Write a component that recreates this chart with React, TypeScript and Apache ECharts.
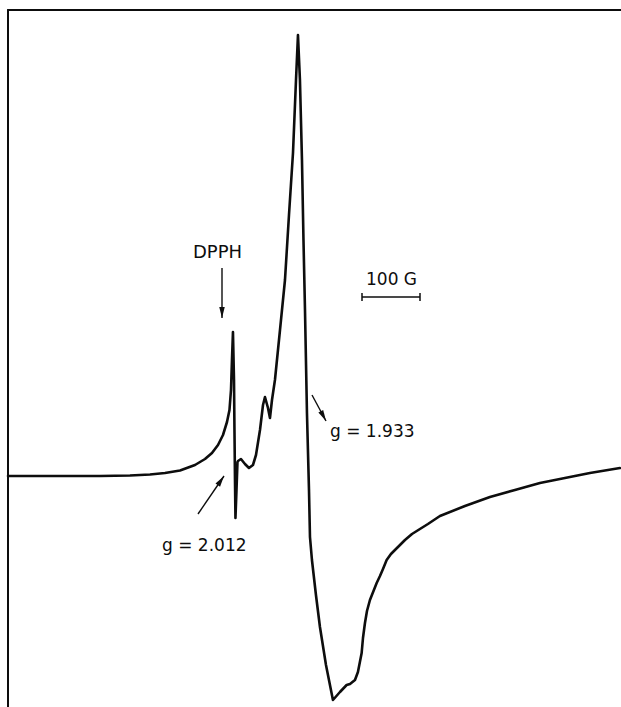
import React, { useEffect, useRef } from "react";
import * as echarts from "echarts";

// Magnetic field (G, relative to left edge of the record)
const fieldG = [
  0, 89.7, 158.6, 210.3, 244.8, 270.7, 296.6, 322.4, 339.7, 351.7,
  362.1, 370.7, 377.6, 381.9, 384.5, 386.2, 387.9, 389.7, 390.5, 391.4,
  392.2, 394.0, 395.7, 396.6, 401.7, 408.6, 415.5, 422.4, 427.6, 434.5,
  439.7, 443.1, 448.3, 451.7, 455.2, 460.3, 469.0, 477.6, 484.5, 491.4,
  496.6, 500.0, 503.4, 506.9, 509.5, 512.1, 515.5, 519.0, 520.7, 524.1,
  531.0, 537.9, 548.3, 560.3, 572.4, 583.9, 589.7, 598.3, 603.4, 609.8,
  612.1, 615.5, 619.0, 624.1, 635.7, 641.4, 646.6, 652.9, 660.3, 667.2,
  675.9, 684.5, 696.6, 710.3, 724.1, 744.8, 787.9, 831.0, 874.1, 917.2,
  960.3, 1003.4, 1055.2,
];

// EPR derivative signal (arbitrary units)
const signal = [
  0, 0, 0, 0.5, 1.5, 3, 5.5, 11, 17, 23,
  31, 41, 54, 66, 86, 116, 144, 96, 46, -4,
  -42, -14, 14, 15, 17, 12, 8, 11, 21, 46,
  71, 79, 68, 58, 76, 96, 146, 196, 261, 323,
  396, 441, 396, 316, 236, 166, 63, -14, -61, -84,
  -119, -151, -189, -224, -216, -209, -208, -204, -196, -177,
  -162, -147, -135, -124, -107, -100, -93, -84, -78, -74,
  -69, -64, -58, -53, -48, -40, -30, -21, -14, -7,
  -2, 3, 8,
];

const labelDPPH = "DPPH";
const labelScale = "100 G";
const labelG1 = "g = 1.933";
const labelG2 = "g = 2.012";

function arrowHead(x1: number, y1: number, tx: number, ty: number, len: number, w: number) {
  const dx = tx - x1;
  const dy = ty - y1;
  const d = Math.sqrt(dx * dx + dy * dy);
  const ux = dx / d;
  const uy = dy / d;
  const bx = tx - ux * len;
  const by = ty - uy * len;
  const nx = -uy;
  const ny = ux;
  return [
    [tx, ty],
    [bx + (nx * w) / 2, by + (ny * w) / 2],
    [bx - (nx * w) / 2, by - (ny * w) / 2],
  ];
}

const FONT = "'DejaVu Sans', 'Liberation Sans', sans-serif";
const INK = "#0d0d0d";

function textEl(text: string, x: number, y: number, size = 17) {
  return {
    type: "text",
    x,
    y,
    style: {
      text,
      fill: INK,
      fontSize: size,
      fontFamily: FONT,
      align: "left",
      verticalAlign: "middle",
      textAlign: "left",
      textVerticalAlign: "middle",
    },
  };
}

function arrow(x1: number, y1: number, tx: number, ty: number) {
  return [
    {
      type: "line",
      shape: { x1, y1, x2: tx, y2: ty },
      style: { stroke: INK, lineWidth: 1.4 },
    },
    {
      type: "polygon",
      shape: { points: arrowHead(x1, y1, tx, ty, 11, 5.5) },
      style: { fill: INK },
    },
  ];
}

export default function App() {
  const ref = useRef<HTMLDivElement>(null);

  useEffect(() => {
    if (!ref.current) return;
    const chart = echarts.init(ref.current, null, { renderer: "svg" });
    const data = fieldG.map((f, i) => [f, signal[i]]);

    chart.setOption({
      animation: false,
      backgroundColor: "#ffffff",
      grid: { left: 8, right: 0, top: 10, bottom: 0, containLabel: false },
      xAxis: {
        type: "value",
        min: 0,
        max: 1057,
        position: "top",
        axisLine: { show: true, onZero: false, lineStyle: { color: INK, width: 2 } },
        axisTick: { show: false },
        axisLabel: { show: false },
        splitLine: { show: false },
      },
      yAxis: {
        type: "value",
        min: -231,
        max: 466,
        position: "left",
        axisLine: { show: true, onZero: false, lineStyle: { color: INK, width: 2 } },
        axisTick: { show: false },
        axisLabel: { show: false },
        splitLine: { show: false },
      },
      series: [
        {
          type: "line",
          data,
          showSymbol: false,
          symbol: "none",
          clip: false,
          lineStyle: { color: INK, width: 2.6, join: "round", cap: "round" },
        },
      ],
      graphic: [
        textEl(labelDPPH, 193, 251, 18),
        ...arrow(222, 268, 222, 318),
        textEl(labelScale, 366, 279),
        { type: "line", shape: { x1: 362, y1: 297, x2: 420, y2: 297 }, style: { stroke: INK, lineWidth: 1.5 } },
        { type: "line", shape: { x1: 362, y1: 293, x2: 362, y2: 301 }, style: { stroke: INK, lineWidth: 1.5 } },
        { type: "line", shape: { x1: 420, y1: 293, x2: 420, y2: 301 }, style: { stroke: INK, lineWidth: 1.5 } },
        ...arrow(312, 395, 326, 421),
        textEl(labelG1, 330, 431),
        ...arrow(198, 514, 224, 476),
        textEl(labelG2, 162, 545),
      ],
    });

    return () => chart.dispose();
  }, []);

  return (
    <div
      ref={ref}
      style={{ position: "fixed", left: 0, top: 0, width: 621, height: 707, background: "#fff" }}
    />
  );
}
